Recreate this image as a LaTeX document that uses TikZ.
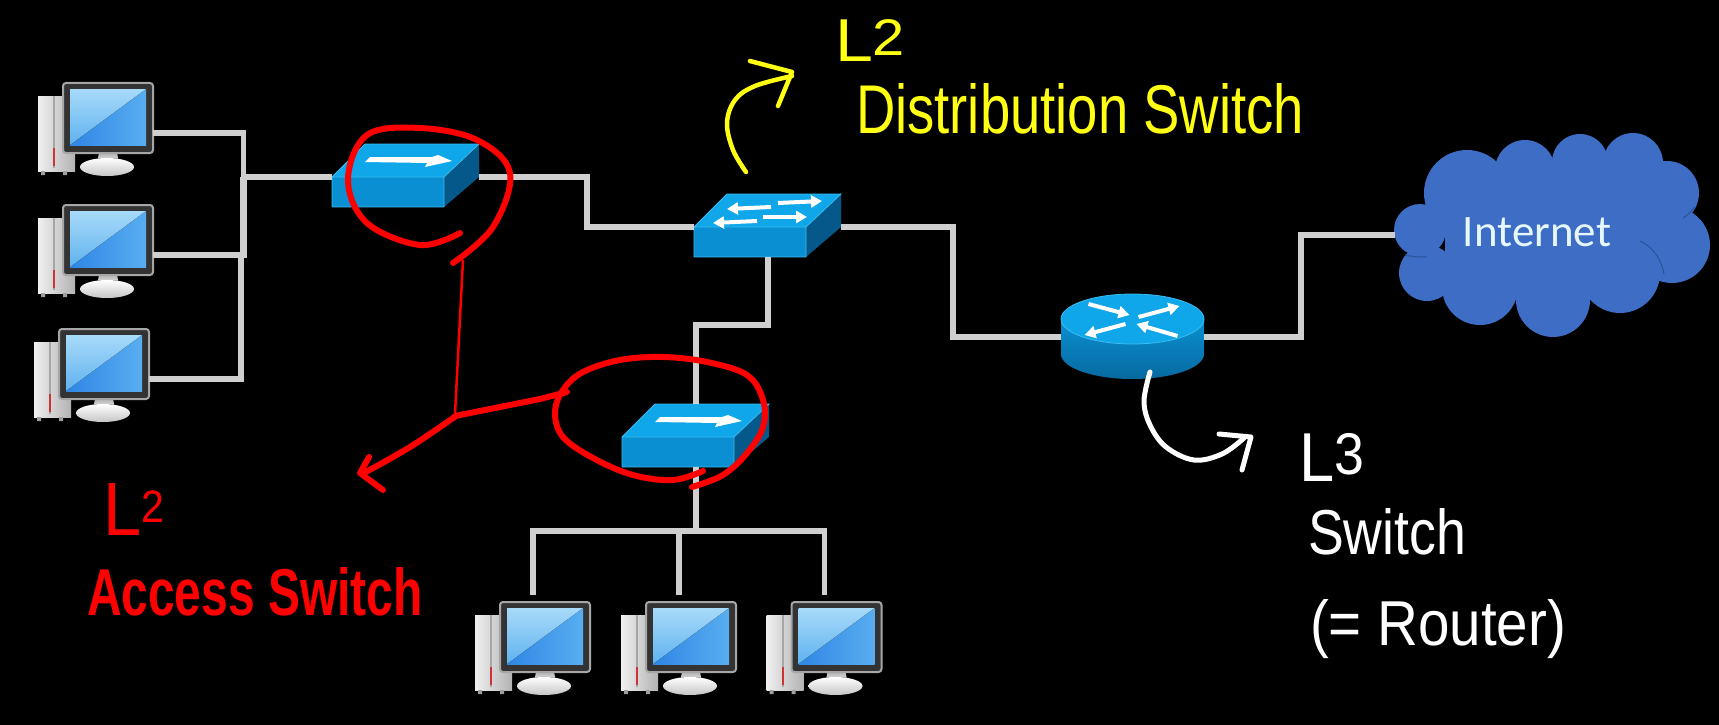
\documentclass[tikz,border=0pt]{standalone}
\usepackage{fontspec}
\usepackage{graphicx}
\setmainfont{Liberation Sans}
\newfontfamily\cloudfont{Carlito}
\usetikzlibrary{arrows.meta}
\definecolor{wirec}{HTML}{CFCFCF}
\definecolor{swtop}{HTML}{10A6EA}
\definecolor{swfront}{HTML}{0A90D2}
\definecolor{swside}{HTML}{05598A}
\definecolor{swedge}{HTML}{3CBDF0}
\definecolor{cloudc}{HTML}{3D6DC4}
\definecolor{creasec}{HTML}{2A5398}
\definecolor{handyellow}{HTML}{FFFF14}
\definecolor{handred}{HTML}{FF0000}
\definecolor{scrpale}{HTML}{A8DAF9}
\definecolor{scrmid}{HTML}{5FB2EF}
\definecolor{scrlow}{HTML}{2F86E4}
\definecolor{scrright}{HTML}{58AEF0}
\newcommand{\swbody}{%
  \fill[swtop] (0,0) -- (33,-33) -- (147,-33) -- (112,0) -- cycle;
  \fill[swside] (112,0) -- (147,-33) -- (147,0) -- (112,30) -- cycle;
  \fill[swfront] (0,0) rectangle (112,30);
  \draw[swedge,line width=.8] (0,30) -- (0,0) -- (33,-33) -- (147,-33) -- (112,0) -- (0,0) (112,0) -- (112,30) -- (0,30);
  \coordinate (-w) at (0,0);
  \coordinate (-e) at (147,0);
  \coordinate (-n) at (74,-33);
  \coordinate (-s) at (74,30);
}
\tikzset{
  x=1pt,y=-1pt,
  wire/.style={draw=wirec,line width=5.5,line cap=butt,line join=miter},
  wirebold/.style={draw=wirec,line width=7.5},
  redpen/.style={draw=handred,line width=6,line cap=round,line join=round},
  yellowpen/.style={draw=handyellow,line width=4.5,line cap=round,line join=round},
  whitepen/.style={draw=white,line width=5,line cap=round,line join=round},
  handtext/.style={inner sep=0,outer sep=0,anchor=base west},
  whitearrow/.style={draw=white,line width=4,-{Triangle[length=11,width=12]}},
  computer/.pic={
    % tower
    \fill[left color=white!88!gray,right color=gray!60] (-70,-22) rectangle (-33,53);
    \fill[gray!70] (-55,-22) rectangle (-53,50);
    \fill[red!60!gray] (-55,30) rectangle (-53,48);
    \fill[gray!75] (-67,53) rectangle (-63,57) (-45,53) rectangle (-41,57);
    % stand
    \fill[top color=gray!60,bottom color=white!90!gray] (-9,35) -- (9,35) -- (11,45) -- (-11,45) -- cycle;
    \fill[top color=white,bottom color=gray!45] (-1,49) ellipse [x radius=27,y radius=9];
    % monitor
    \draw[draw=gray!70,fill=black!80,line width=2,rounded corners=3] (-45,-35) rectangle (45,35);
    \fill[left color=scrlow,right color=scrright] (-38,-29) rectangle (38,27);
    \fill[top color=scrpale,bottom color=scrmid] (-38,-29) -- (38,-29) -- (-38,27) -- cycle;
    \coordinate (-e) at (45,15);
    \coordinate (-n) at (-12,-42);
  },
  accessbox/.pic={
    \swbody
    \fill[white] (33,-15) -- (38,-20) -- (100,-20) -- (106,-22) -- (120,-16) -- (93,-10) -- (95,-14) -- cycle;
  },
  distbox/.pic={
    \swbody
    \draw[whitearrow] (77,-20) -- (33,-18);
    \draw[whitearrow] (84,-24) -- (128,-26);
    \draw[whitearrow] (63,-6) -- (19,-4);
    \draw[whitearrow] (69,-10) -- (113,-10);
  },
  routerbox/.pic={
    \fill[top color=swfront,bottom color=swside!70!swfront] (-71.5,0) -- (-71.5,35) arc[start angle=180,end angle=0,x radius=71.5,y radius=25] -- (71.5,0) -- cycle;
    \fill[swtop,draw=swedge,line width=.8] (0,0) ellipse [x radius=71.5,y radius=25];
    \draw[whitearrow] (-44,-15) -- (-3,-4);
    \draw[whitearrow] (6,-2) -- (47,-13);
    \draw[whitearrow] (-7,5) -- (-48,16);
    \draw[whitearrow] (45,17) -- (4,5);
    \coordinate (-w) at (-71.5,18);
    \coordinate (-e) at (71.5,18);
  },
}
\newcommand{\handfit}[3]{\resizebox{#1pt}{#2pt}{#3}}
\newcommand{\layer}[3]{L\raisebox{#1em}{\scalebox{#2}{#3}}}
\begin{document}
\begin{tikzpicture}
\useasboundingbox (0,0) rectangle (1719,725);
\fill[black] (0,0) rectangle (1719,725);

% cloud
\foreach \cx/\cy/\cr in {1467/193/43,1525/170/30,1580/162/28,1633/163/30,1667/193/32,1672/245/38,1420/230/26,1427/273/28,1480/287/38,1553/300/37,1620/273/40}
  \fill[cloudc] (\cx,\cy) circle [radius=\cr];
\fill[cloudc] (1500,158) rectangle (1640,300);
\fill[cloudc] (1445,195) rectangle (1655,280);
\draw[creasec,line width=1] (1640,241) .. controls (1655,248) and (1662,262) .. (1664,274);
\draw[creasec,line width=1] (1405,255) .. controls (1413,257) and (1420,257) .. (1427,257);
\draw[creasec,line width=1] (1683,218) .. controls (1690,213) and (1692,210) .. (1695,207);
\node[font=\cloudfont\fontsize{45}{54}\selectfont,text=white!90!cyan,inner sep=0,anchor=base] (internet) at (1537,246) {Internet};
\coordinate (cloudport) at (1395,235);

% devices
\pic (pc1) at (108,118) {computer};
\pic (pc2) at (108,240) {computer};
\pic (pc3) at (104,364) {computer};
\pic (pc4) at (545,637) {computer};
\pic (pc5) at (691,637) {computer};
\pic (pc6) at (836.5,637) {computer};
\pic (acc1) at (332,177) {accessbox};
\pic (acc2) at (622,437) {accessbox};
\pic (dist) at (694,227) {distbox};
\pic (rt) at (1132.5,319) {routerbox};

% junctions
\coordinate (ja) at (243.5,177);
\coordinate (jb) at (243.5,258);
\coordinate (jc) at (241,255);
\coordinate (jd) at (696,531);
\coordinate (je) at (587,200);
\coordinate (jf) at (953,280);
\coordinate (jg) at (1301,290);
\coordinate (jh) at (730,325);

% connectors
\draw[wire] (pc1-e) -| (ja) -- (acc1-w);
\draw[wire] (pc2-e) -| (jc);
\draw[wire] (pc3-e) -| (jc);
\draw[wirebold] (ja) -- (jb);
\draw[wire] (acc1-e) -| (je) |- (dist-w);
\draw[wire] (dist-e) -| (jf) |- (rt-w);
\draw[wire] (rt-e) -| (jg) |- (cloudport);
\draw[wire] (dist-s) |- (jh) -| (acc2-n);
\draw[wire] (acc2-s) -- (jd);
\draw[wire] (pc4-n) |- (jd);
\draw[wire] (pc5-n) |- (jd);
\draw[wire] (pc6-n) |- (jd);

% red annotations
\draw[redpen] plot[smooth,tension=.6] coordinates {(460,233) (420,245) (367,223) (348,180) (367,135) (420,128) (477,140) (510,173) (493,227) (453,263)};
\draw[draw=handred,line width=2.5] (463,260) -- (455,414);
\draw[redpen] plot[smooth,tension=.6] coordinates {(703,471) (673,480) (633,475) (593,458) (563,437) (555,413) (563,390) (583,372) (620,360) (663,357) (707,362) (747,375) (763,400) (763,427) (747,453) (723,475) (692,487)};
\draw[redpen] (455,416) -- (540,399) -- (567,392);
\draw[redpen] plot[smooth,tension=.6] coordinates {(456,416) (410,447) (364,473)};
\draw[redpen] (369,457) -- (360,473) -- (383,490);
\node[handtext,text=handred] (redl) at (103,535) {\handfit{61}{52}{\layer{.17}{.6}{2}}};
\node[handtext,text=handred,font=\bfseries] (redt) at (87,615) {\handfit{336}{48}{Access Switch}};

% yellow annotations
\draw[yellowpen] plot[smooth,tension=.6] coordinates {(746,172) (733,150) (727,123) (735,100) (755,86) (792,76)};
\draw[yellowpen] (750,61) -- (792,72) -- (778,106);
\node[handtext,text=handyellow] (yell) at (835,62) {\handfit{70}{42}{\layer{.1}{.85}{2}}};
\node[handtext,text=handyellow] (yelt) at (856,133) {\handfit{448}{50}{Distribution Switch}};

% white annotations
\draw[whitepen] plot[smooth,tension=.6] coordinates {(1150,372) (1144,401) (1150,425) (1166,447) (1194,460) (1222,454) (1244,438)};
\draw[whitepen] (1219,434) -- (1251,437) -- (1242,470);
\node[handtext,text=white] (whl) at (1299,481) {\handfit{65}{48}{\layer{.1}{.85}{3}}};
\node[handtext,text=white] (wht) at (1308,554) {\handfit{158}{46}{Switch}};
\node[handtext,text=white] (whr) at (1310,645) {\handfit{256}{46}{(= Router)}};
\end{tikzpicture}
\end{document}
